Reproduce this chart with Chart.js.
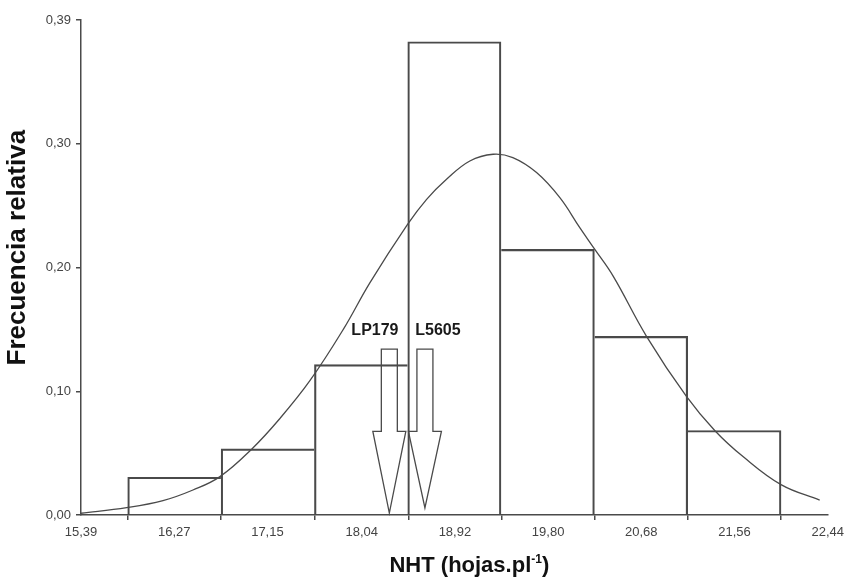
<!DOCTYPE html>
<html>
<head>
<meta charset="utf-8">
<title>NHT histogram</title>
<script src="https://cdn.jsdelivr.net/npm/chart.js@4.4.1/dist/chart.umd.min.js"></script>
<style>
  html, body { margin: 0; padding: 0; background: #fff; }
  #wrap { width: 849px; height: 586px; position: relative; }
</style>
</head>
<body>
<div id="wrap"><canvas id="histChart" width="849" height="586"></canvas></div>
<script>
// ==================== DATA ====================
const binCenters = [16.271, 17.153, 18.034, 18.915, 19.797, 20.678, 21.559];
const relFreq = [0.0305, 0.0534, 0.1215, 0.3824, 0.2146, 0.1444, 0.0683];

// normal curve
const curveX = [15.39, 15.821, 16.164, 16.447, 16.702, 17.001, 17.268, 17.551, 17.865, 18.117, 18.473, 18.653, 18.841, 19.061, 19.281, 19.467, 19.691, 19.911, 20.099, 20.241, 20.414, 20.729, 21.106, 21.373, 21.64, 22.003, 22.364];
const curveY = [0.0014, 0.0059, 0.0116, 0.0202, 0.031, 0.0532, 0.078, 0.1085, 0.1498, 0.1876, 0.2348, 0.2551, 0.2713, 0.2861, 0.2915, 0.2888, 0.2767, 0.2564, 0.2322, 0.2146, 0.193, 0.1444, 0.0958, 0.0683, 0.0472, 0.0243, 0.0121];

const xTickValues = [15.39, 16.27, 17.15, 18.04, 18.92, 19.80, 20.68, 21.56, 22.44];
const xTickLabels = ['15,39', '16,27', '17,15', '18,04', '18,92', '19,80', '20,68', '21,56', '22,44'];
const yTickValues = [0, 0.1, 0.2, 0.3, 0.4];
const yTickLabels = ['0,00', '0,10', '0,20', '0,30', '0,39'];

// arrows for the two lines
const arrowNames = ['LP179', 'L5605'];
const arrowX = [18.301, 18.637];
const arrowTopY = [0.134, 0.134];
const arrowShaftEndY = [0.0675, 0.0675];
const arrowTipY = [0.0016, 0.0057];
const arrowLabelX = [18.165, 18.76];
const arrowLabelY = [0.149, 0.149];

const yTitle = 'Frecuencia relativa';
const xTitle = 'NHT (hojas.pl';
const xTitleSup = '-1';

const INK = '#4a4a4a';
const FONT = '"Liberation Sans", Arial, sans-serif';

// each shared bin edge is drawn once, by the taller bar
function barBorder(ctx) {
  const i = ctx.dataIndex;
  const h = relFreq[i];
  const prev = i > 0 ? relFreq[i - 1] : -1;
  const next = i < relFreq.length - 1 ? relFreq[i + 1] : -1;
  return { top: 1.5, bottom: 0, left: prev < h ? 1.5 : 0, right: next < h ? 1.5 : 0 };
}

const arrowPlugin = {
  id: 'arrows',
  afterDatasetsDraw(chart) {
    const { ctx, scales: { x, y } } = chart;
    const shaftW = 16, headW = 33;
    ctx.save();
    ctx.strokeStyle = INK;
    ctx.lineWidth = 1.3;
    arrowNames.forEach((name, i) => {
      const cx = x.getPixelForValue(arrowX[i]);
      const top = y.getPixelForValue(arrowTopY[i]);
      const mid = y.getPixelForValue(arrowShaftEndY[i]);
      const tip = y.getPixelForValue(arrowTipY[i]);
      ctx.beginPath();
      ctx.moveTo(cx - shaftW / 2, top);
      ctx.lineTo(cx + shaftW / 2, top);
      ctx.lineTo(cx + shaftW / 2, mid);
      ctx.lineTo(cx + headW / 2, mid);
      ctx.lineTo(cx, tip);
      ctx.lineTo(cx - headW / 2, mid);
      ctx.lineTo(cx - shaftW / 2, mid);
      ctx.closePath();
      ctx.stroke();
    });
    ctx.fillStyle = '#1a1a1a';
    ctx.font = 'bold 16px ' + FONT;
    ctx.textAlign = 'center';
    ctx.textBaseline = 'middle';
    arrowNames.forEach((name, i) => {
      ctx.fillText(name, x.getPixelForValue(arrowLabelX[i]), y.getPixelForValue(arrowLabelY[i]));
    });
    ctx.restore();
  }
};

// axis titles: drawn by hand so they sit where the original has them
const titlePlugin = {
  id: 'axisTitles',
  afterDraw(chart) {
    const { ctx, chartArea } = chart;
    ctx.save();
    ctx.fillStyle = '#111';
    ctx.textBaseline = 'middle';

    ctx.translate(18, chartArea.top + (chartArea.bottom - chartArea.top) * 0.46);
    ctx.rotate(-Math.PI / 2);
    ctx.textAlign = 'center';
    ctx.font = 'bold 26px ' + FONT;
    ctx.fillText(yTitle, 0, 0);
    ctx.setTransform(1, 0, 0, 1, 0, 0);

    ctx.font = 'bold 22px ' + FONT;
    const mainW = ctx.measureText(xTitle).width;
    ctx.font = 'bold 12px ' + FONT;
    const supW = ctx.measureText(xTitleSup).width;
    ctx.font = 'bold 22px ' + FONT;
    const closeW = ctx.measureText(')').width;
    const total = mainW + supW + closeW;
    let left = (chartArea.left + chartArea.right) / 2 + 15 - total / 2;
    const yMid = 566;
    ctx.textAlign = 'left';
    ctx.fillText(xTitle, left, yMid);
    left += mainW;
    ctx.font = 'bold 12px ' + FONT;
    ctx.fillText(xTitleSup, left, yMid - 6);
    left += supW;
    ctx.font = 'bold 22px ' + FONT;
    ctx.fillText(')', left, yMid);
    ctx.restore();
  }
};

const tickFont = { family: FONT, size: 13 };

new Chart(document.getElementById('histChart'), {
  data: {
    datasets: [
      {
        type: 'line',
        data: curveX.map((v, i) => ({ x: v, y: curveY[i] })),
        borderColor: INK,
        borderWidth: 1.3,
        pointRadius: 0,
        tension: 0.4,
        fill: false
      },
      {
        type: 'bar',
        data: binCenters.map((v, i) => ({ x: v, y: relFreq[i] })),
        backgroundColor: 'rgba(0,0,0,0)',
        borderColor: INK,
        borderWidth: barBorder,
        borderSkipped: false,
        barPercentage: 1,
        categoryPercentage: 1
      }
    ]
  },
  options: {
    responsive: false,
    animation: false,
    layout: { padding: { top: 20, right: 21, left: 0, bottom: 0 } },
    plugins: { legend: { display: false }, tooltip: { enabled: false } },
    scales: {
      x: {
        type: 'linear',
        min: 15.39,
        max: 22.44,
        offset: false,
        afterBuildTicks: s => { s.ticks = xTickValues.map(v => ({ value: v })); },
        afterFit: s => { s.height = 71; },
        ticks: { color: '#444', font: tickFont, maxRotation: 0, autoSkip: false, padding: 5,
          callback: (v, i) => xTickLabels[i] },
        grid: { display: true, drawOnChartArea: false, drawTicks: true, tickLength: 5, color: INK, lineWidth: 1.5 },
        border: { display: true, color: INK, width: 1.5 }
      },
      y: {
        min: 0,
        max: 0.4,
        afterBuildTicks: s => { s.ticks = yTickValues.map(v => ({ value: v })); },
        afterFit: s => { s.width = 81; },
        ticks: { color: '#444', font: tickFont, padding: 5,
          callback: (v, i) => yTickLabels[i] },
        grid: { display: true, drawOnChartArea: false, drawTicks: true, tickLength: 5, color: INK, lineWidth: 1.5 },
        border: { display: true, color: INK, width: 1.5 }
      }
    }
  },
  plugins: [arrowPlugin, titlePlugin]
});
</script>
</body>
</html>
